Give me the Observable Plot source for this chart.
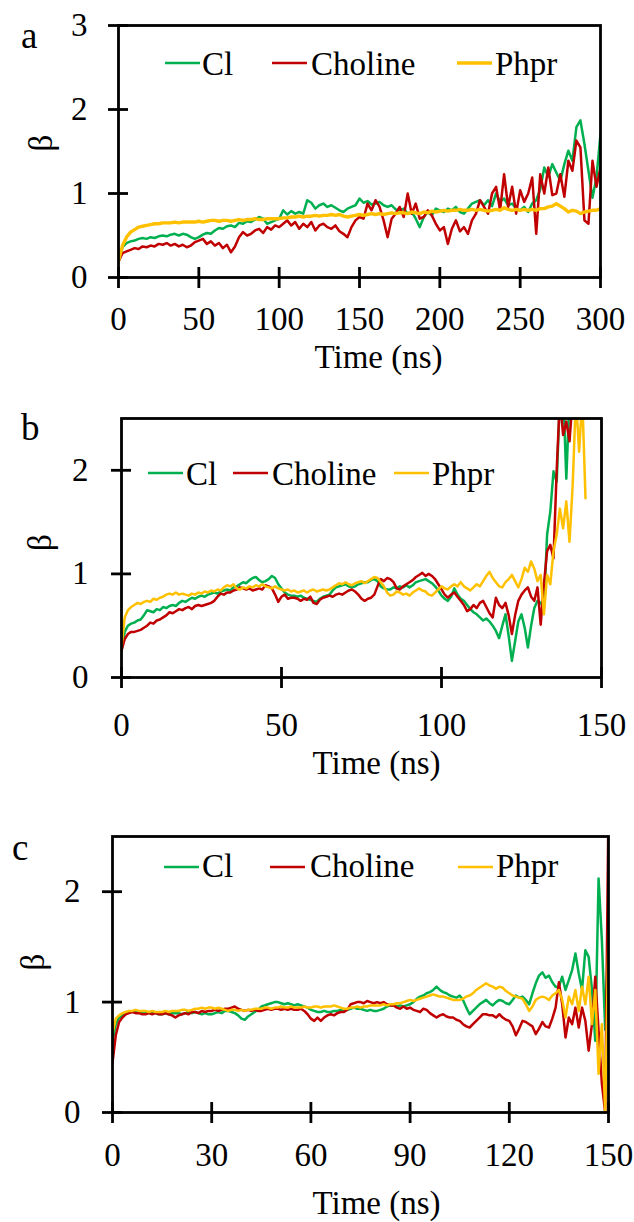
<!DOCTYPE html>
<html><head><meta charset="utf-8">
<script src="https://cdn.jsdelivr.net/npm/d3@7"></script>
<script src="https://cdn.jsdelivr.net/npm/@observablehq/plot@0.6"></script>
<style>
html,body{margin:0;padding:0;background:#fff;}
#page{position:relative;width:634px;height:1222px;overflow:hidden;font-family:"Liberation Serif","Times New Roman",Times,serif;}
#page svg, #page svg text{font-family:"Liberation Serif","Times New Roman",Times,serif !important;}
</style></head><body><div id="page"></div>
<script>
// ---------- shared ----------
const seriesNames = ["Cl", "Choline", "Phpr"];
const seriesColors = ["#00b050", "#c00000", "#ffc000"];
const xLabel = "Time (ns)";
const yLabel = "β";
const panelLetters = ["a", "b", "c"];

// ---------- panel a (sampled every 2.5 ns, 0–300 ns) ----------
const stepA = 2.5;
const xTicksA = [0, 50, 100, 150, 200, 250, 300];
const yTicksA = [0, 1, 2, 3];
const clA = [
  0.18,0.36,0.41,0.43,0.44,0.46,0.47,0.46,0.48,0.47,
  0.49,0.50,0.49,0.51,0.52,0.50,0.52,0.51,0.48,0.46,
  0.48,0.51,0.53,0.52,0.56,0.59,0.58,0.61,0.62,0.60,
  0.65,0.64,0.67,0.66,0.69,0.72,0.70,0.64,0.66,0.68,
  0.70,0.80,0.75,0.79,0.76,0.78,0.76,0.92,0.89,0.82,
  0.86,0.88,0.84,0.86,0.83,0.80,0.78,0.82,0.84,0.86,
  0.94,0.89,0.91,0.87,0.88,0.90,0.86,0.84,0.86,0.81,
  0.80,0.82,0.76,0.78,0.70,0.60,0.72,0.78,0.74,0.82,
  0.80,0.78,0.82,0.80,0.84,0.78,0.76,0.82,0.88,0.90,
  0.92,0.86,0.92,0.85,1.00,0.90,0.94,0.86,0.88,0.82,
  0.80,0.84,0.78,0.88,0.92,1.05,1.31,1.20,1.35,1.25,
  1.15,1.35,1.51,1.39,1.79,1.87,1.59,1.27,0.95,1.19,
  1.71
];
const cholineA = [
  0.19,0.29,0.31,0.33,0.35,0.34,0.37,0.36,0.38,0.37,
  0.40,0.39,0.41,0.38,0.40,0.37,0.39,0.36,0.38,0.42,
  0.44,0.46,0.40,0.43,0.38,0.41,0.35,0.39,0.30,0.37,
  0.48,0.54,0.50,0.52,0.56,0.58,0.53,0.60,0.57,0.62,
  0.60,0.64,0.68,0.62,0.66,0.58,0.64,0.60,0.66,0.56,
  0.62,0.64,0.60,0.58,0.62,0.55,0.52,0.48,0.60,0.68,
  0.72,0.70,0.88,0.80,0.92,0.84,0.68,0.48,0.70,0.76,
  0.84,0.72,1.00,0.76,0.88,0.70,0.72,0.80,0.74,0.64,
  0.56,0.60,0.40,0.58,0.68,0.55,0.60,0.52,0.68,0.76,
  0.92,0.84,0.76,1.00,1.08,0.80,1.23,0.84,1.08,0.76,
  1.04,0.90,1.00,1.19,0.52,1.23,1.00,1.31,0.98,1.00,
  1.23,0.96,1.39,1.27,1.63,1.55,0.68,0.64,1.39,1.08,
  1.31
];
const phprA = [
  0.20,0.38,0.48,0.54,0.57,0.60,0.61,0.62,0.63,0.64,
  0.64,0.65,0.65,0.65,0.66,0.65,0.66,0.66,0.66,0.66,
  0.67,0.66,0.67,0.68,0.68,0.67,0.68,0.68,0.67,0.68,
  0.69,0.68,0.69,0.69,0.70,0.69,0.69,0.70,0.70,0.70,
  0.70,0.71,0.71,0.72,0.72,0.73,0.72,0.73,0.73,0.74,
  0.73,0.74,0.74,0.75,0.74,0.75,0.73,0.72,0.73,0.74,
  0.75,0.74,0.75,0.76,0.75,0.76,0.75,0.76,0.77,0.76,
  0.77,0.77,0.76,0.78,0.77,0.76,0.78,0.77,0.79,0.78,
  0.79,0.80,0.79,0.80,0.80,0.81,0.80,0.80,0.81,0.80,
  0.81,0.80,0.79,0.80,0.81,0.80,0.83,0.81,0.80,0.81,
  0.80,0.81,0.80,0.81,0.80,0.82,0.82,0.84,0.85,0.88,
  0.85,0.82,0.78,0.80,0.79,0.76,0.78,0.79,0.80,0.80,
  0.82
];

// ---------- panel b (sampled every 1 ns) ----------
const stepB = 1;
const xTicksB = [0, 50, 100, 150];
const yTicksB = [0, 1, 2];
const clB = [
  0.26,0.44,0.50,0.52,0.53,0.55,0.56,0.60,0.65,0.64,
  0.63,0.66,0.65,0.68,0.67,0.69,0.70,0.69,0.72,0.74,
  0.73,0.75,0.77,0.76,0.78,0.79,0.78,0.80,0.81,0.82,
  0.81,0.83,0.84,0.85,0.84,0.87,0.88,0.90,0.92,0.91,
  0.94,0.96,0.97,0.94,0.92,0.93,0.95,0.98,0.96,0.90,
  0.86,0.82,0.80,0.79,0.79,0.78,0.79,0.77,0.76,0.75,
  0.74,0.73,0.76,0.78,0.79,0.80,0.84,0.87,0.88,0.89,
  0.90,0.88,0.87,0.88,0.90,0.91,0.92,0.92,0.94,0.95,
  0.93,0.88,0.86,0.85,0.85,0.87,0.86,0.88,0.87,0.89,
  0.87,0.89,0.92,0.93,0.94,0.95,0.93,0.91,0.88,0.84,
  0.79,0.76,0.74,0.78,0.86,0.80,0.76,0.74,0.70,0.66,
  0.63,0.61,0.58,0.55,0.57,0.54,0.50,0.45,0.38,0.50,
  0.61,0.40,0.16,0.35,0.54,0.61,0.48,0.29,0.50,0.67,
  0.74,0.72,0.67,1.38,1.60,1.99,1.89,2.70,2.80,1.92,
  2.70,2.80,2.60
];
const cholineB = [
  0.26,0.37,0.42,0.44,0.44,0.45,0.46,0.48,0.50,0.53,
  0.52,0.55,0.56,0.58,0.60,0.63,0.62,0.64,0.66,0.65,
  0.67,0.68,0.66,0.69,0.70,0.69,0.70,0.71,0.72,0.74,
  0.78,0.81,0.80,0.82,0.82,0.84,0.85,0.87,0.86,0.85,
  0.86,0.84,0.85,0.86,0.85,0.89,0.88,0.86,0.80,0.73,
  0.78,0.80,0.76,0.77,0.77,0.76,0.74,0.76,0.75,0.78,
  0.72,0.71,0.75,0.77,0.78,0.79,0.78,0.80,0.81,0.80,
  0.82,0.84,0.85,0.83,0.80,0.76,0.74,0.76,0.77,0.80,
  0.88,0.95,0.93,0.96,0.95,0.92,0.86,0.85,0.88,0.90,
  0.92,0.94,0.97,0.99,1.01,0.98,1.00,0.98,0.95,0.90,
  0.85,0.80,0.77,0.80,0.82,0.78,0.74,0.70,0.64,0.66,
  0.70,0.67,0.72,0.74,0.68,0.62,0.58,0.77,0.70,0.67,
  0.72,0.60,0.42,0.60,0.74,0.80,0.84,0.87,0.78,0.74,
  0.87,0.51,0.90,1.22,1.28,1.15,2.00,2.70,2.34,2.47,
  2.28,2.70,2.60
];
const phprB = [
  0.29,0.58,0.65,0.68,0.70,0.72,0.71,0.73,0.74,0.73,
  0.76,0.75,0.77,0.78,0.80,0.81,0.80,0.82,0.80,0.81,
  0.80,0.79,0.81,0.80,0.82,0.81,0.83,0.82,0.84,0.83,
  0.85,0.84,0.87,0.89,0.88,0.90,0.86,0.85,0.87,0.86,
  0.88,0.87,0.89,0.88,0.90,0.88,0.87,0.86,0.88,0.86,
  0.85,0.84,0.85,0.83,0.84,0.82,0.83,0.84,0.82,0.84,
  0.85,0.83,0.84,0.85,0.84,0.85,0.87,0.89,0.91,0.90,
  0.92,0.90,0.89,0.91,0.92,0.93,0.91,0.93,0.95,0.97,
  0.96,0.92,0.88,0.82,0.79,0.80,0.83,0.82,0.80,0.81,
  0.79,0.82,0.84,0.86,0.84,0.83,0.80,0.79,0.82,0.85,
  0.88,0.86,0.85,0.88,0.90,0.88,0.92,0.88,0.86,0.84,
  0.87,0.90,0.88,0.93,0.98,1.02,0.96,0.92,0.88,0.87,
  0.92,0.95,0.99,0.93,0.87,0.95,1.06,1.02,1.12,1.05,
  0.93,0.99,0.61,0.99,0.90,1.22,1.38,1.63,1.44,1.70,
  1.31,1.86,2.70,2.18,2.70,1.73
];

// ---------- panel c (sampled every 1 ns) ----------
const stepC = 1;
const xTicksC = [0, 30, 60, 90, 120, 150];
const yTicksC = [0, 1, 2];
const clC = [
  0.65,0.80,0.86,0.88,0.90,0.91,0.91,0.92,0.91,0.91,
  0.91,0.90,0.91,0.90,0.89,0.89,0.90,0.89,0.90,0.90,
  0.90,0.89,0.90,0.91,0.90,0.91,0.90,0.89,0.90,0.89,
  0.89,0.90,0.91,0.90,0.92,0.92,0.91,0.90,0.88,0.85,
  0.84,0.87,0.89,0.91,0.93,0.96,0.97,0.98,0.99,1.00,
  1.00,0.99,0.98,0.99,0.98,0.97,0.98,0.97,0.96,0.95,
  0.93,0.92,0.91,0.91,0.92,0.91,0.91,0.92,0.92,0.93,
  0.92,0.93,0.94,0.95,0.94,0.94,0.93,0.92,0.93,0.92,
  0.92,0.93,0.94,0.96,0.97,0.97,0.96,0.97,0.96,0.97,
  0.98,1.00,1.03,1.05,1.06,1.08,1.09,1.11,1.14,1.11,
  1.09,1.08,1.06,1.05,1.04,1.06,1.02,0.95,0.89,0.92,
  0.95,0.98,1.00,1.02,0.99,0.97,1.00,1.02,1.01,0.99,
  0.98,1.02,1.06,1.04,1.05,1.02,0.98,1.08,1.17,1.24,
  1.27,1.22,1.24,1.18,1.14,1.14,1.23,1.11,1.20,1.29,
  1.44,1.26,1.11,1.47,1.41,1.11,0.65,2.12,1.56,0.75,
  1.60
];
const cholineC = [
  0.45,0.70,0.82,0.86,0.89,0.90,0.91,0.90,0.90,0.89,
  0.89,0.90,0.89,0.90,0.89,0.89,0.90,0.89,0.88,0.86,
  0.88,0.89,0.90,0.89,0.91,0.91,0.90,0.92,0.91,0.92,
  0.92,0.93,0.92,0.93,0.94,0.94,0.95,0.96,0.94,0.93,
  0.92,0.93,0.92,0.93,0.92,0.92,0.93,0.94,0.93,0.94,
  0.94,0.93,0.94,0.93,0.94,0.93,0.93,0.94,0.92,0.89,
  0.85,0.83,0.86,0.83,0.86,0.88,0.89,0.88,0.90,0.91,
  0.91,0.93,0.98,0.99,1.00,1.00,0.99,1.01,1.00,0.99,
  1.00,0.99,1.00,0.98,0.97,0.97,0.95,0.94,0.96,0.94,
  0.95,0.93,0.92,0.91,0.94,0.93,0.90,0.88,0.86,0.88,
  0.89,0.87,0.86,0.86,0.84,0.83,0.80,0.78,0.77,0.80,
  0.83,0.86,0.89,0.89,0.88,0.88,0.86,0.89,0.86,0.84,
  0.83,0.78,0.70,0.76,0.83,0.82,0.80,0.78,0.71,0.76,
  0.82,0.78,0.77,0.85,0.95,1.18,0.98,0.68,0.86,0.80,
  0.95,0.77,0.95,0.83,0.56,0.80,1.23,0.74,0.26,0.00,
  2.80
];
const phprC = [
  0.72,0.85,0.88,0.90,0.91,0.92,0.92,0.93,0.92,0.92,
  0.92,0.91,0.92,0.91,0.91,0.91,0.92,0.91,0.92,0.92,
  0.92,0.93,0.93,0.92,0.93,0.94,0.94,0.95,0.94,0.95,
  0.95,0.94,0.95,0.94,0.93,0.92,0.93,0.93,0.92,0.93,
  0.92,0.93,0.93,0.94,0.94,0.94,0.95,0.95,0.94,0.95,
  0.95,0.96,0.95,0.95,0.96,0.95,0.95,0.95,0.96,0.95,
  0.95,0.96,0.96,0.95,0.96,0.96,0.96,0.97,0.96,0.95,
  0.94,0.94,0.95,0.95,0.96,0.95,0.96,0.96,0.97,0.97,
  0.97,0.97,0.98,0.97,0.98,0.98,0.99,0.99,1.00,1.01,
  1.02,1.01,1.02,1.03,1.04,1.05,1.06,1.07,1.06,1.05,
  1.05,1.04,1.03,1.02,1.02,1.02,1.03,1.05,1.06,1.08,
  1.11,1.13,1.15,1.17,1.15,1.14,1.12,1.14,1.13,1.10,
  1.08,1.06,1.05,1.04,1.03,0.98,0.92,0.96,1.02,1.04,
  1.05,1.04,1.02,1.06,1.08,1.11,1.02,0.86,1.05,0.98,
  1.11,0.92,1.14,0.98,1.23,0.80,1.11,0.35,0.80,0.00,
  1.65
];

// ---------- drawing ----------
const page = document.getElementById("page");
const FONT = '"Liberation Serif", "Times New Roman", Times, serif';
const rows = (vals, step) => vals.map((v, i) => ({t: i * step, v}));
const fmt = (d) => String(d);

const panels = [
  {series: [clA, cholineA, phprA], step: stepA, xDomain: [0, 300], yDomain: [0, 3], xTicks: xTicksA, yTicks: yTicksA,
   top: 0, height: 380, ml: 118, mr: 34, mt: 25, mb: 103, widths: [2.5, 2.5, 3.4],
   xPad: 29, yPad: 31, titleDx: 19, titleDy: 80, betaDx: -77, betaDy: 0,
   letter: {x: 21, y: 48}, legendY: 63, legendBase: 75, lineX: [165, 272, 457], textX: [202, 311, 495], legendW: [2.5, 2.5, 3.6]},
  {series: [clB, cholineB, phprB], step: stepB, xDomain: [0, 150], yDomain: [0, 2.5], xTicks: xTicksB, yTicks: yTicksB,
   top: 380, height: 400, ml: 121, mr: 33, mt: 38, mb: 103, widths: [2.5, 2.5, 2.5],
   xPad: 35, yPad: 33, titleDx: 15, titleDy: 86, betaDx: -81, betaDy: 3,
   letter: {x: 21, y: 440}, legendY: 473, legendBase: 485, lineX: [148, 233, 394], textX: [186, 272, 432], legendW: [2.5, 2.5, 2.5]},
  {series: [clC, cholineC, phprC], step: stepC, xDomain: [0, 150], yDomain: [0, 2.5], xTicks: xTicksC, yTicks: yTicksC,
   top: 780, height: 442, ml: 112, mr: 26, mt: 56, mb: 110, widths: [2.5, 2.5, 2.5],
   xPad: 30, yPad: 32, titleDx: 16, titleDy: 91, betaDx: -79, betaDy: -4,
   letter: {x: 12, y: 860}, legendY: 867, legendBase: 877, lineX: [164, 270, 458], textX: [202, 310, 496], legendW: [2.5, 2.5, 2.5]}
];

panels.forEach((p) => {
  const marks = p.series.map((vals, k) =>
    Plot.line(rows(vals, p.step), {x: "t", y: "v", stroke: seriesColors[k], strokeWidth: p.widths[k], clip: true})
  );
  marks.push(
    Plot.frame({stroke: "black", strokeWidth: 2.8}),
    Plot.axisX({ticks: p.xTicks, tickSize: 21, dy: -10, fill: "none", stroke: "black", strokeWidth: 2.8, label: null}),
    Plot.axisX({ticks: p.xTicks, tickSize: 0, tickPadding: p.xPad, tickFormat: fmt, fill: "black", fontSize: 33, label: null}),
    Plot.axisY({ticks: p.yTicks, tickSize: 20, dx: 10, fill: "none", stroke: "black", strokeWidth: 2.8, label: null}),
    Plot.axisY({ticks: p.yTicks, tickSize: 0, tickPadding: p.yPad, tickFormat: fmt, fill: "black", fontSize: 33, label: null}),
    Plot.text([xLabel], {text: (d) => d, frameAnchor: "bottom", dx: p.titleDx, dy: p.titleDy, lineAnchor: "middle", fontSize: 33, fill: "black"}),
    Plot.text([yLabel], {text: (d) => d, frameAnchor: "left", rotate: -90, dx: p.betaDx, dy: p.betaDy, lineAnchor: "middle", fontSize: 33, fill: "black"})
  );
  const svg = Plot.plot({
    width: 634, height: p.height,
    marginLeft: p.ml, marginRight: p.mr, marginTop: p.mt, marginBottom: p.mb,
    x: {domain: p.xDomain}, y: {domain: p.yDomain},
    style: {fontFamily: FONT, fontSize: "33px", color: "black", background: "transparent", overflow: "visible"},
    marks
  });
  svg.setAttribute("font-family", FONT);
  svg.style.position = "absolute";
  svg.style.left = "0px";
  svg.style.top = p.top + "px";
  page.appendChild(svg);
});

// legends and panel letters
const overlay = d3.create("svg")
  .attr("width", 634).attr("height", 1222)
  .style("position", "absolute").style("left", "0px").style("top", "0px")
  .style("pointer-events", "none")
  .attr("font-family", FONT);

panels.forEach((p, i) => {
  overlay.append("text").attr("x", p.letter.x).attr("y", p.letter.y)
    .attr("font-size", 37).attr("fill", "black").text(panelLetters[i]);
  seriesNames.forEach((name, k) => {
    overlay.append("line")
      .attr("x1", p.lineX[k]).attr("x2", p.lineX[k] + 35)
      .attr("y1", p.legendY).attr("y2", p.legendY)
      .attr("stroke", seriesColors[k]).attr("stroke-width", p.legendW[k]);
    overlay.append("text").attr("x", p.textX[k]).attr("y", p.legendBase)
      .attr("font-size", 33).attr("fill", "black").text(name);
  });
});
page.appendChild(overlay.node());
</script>
</body></html>
